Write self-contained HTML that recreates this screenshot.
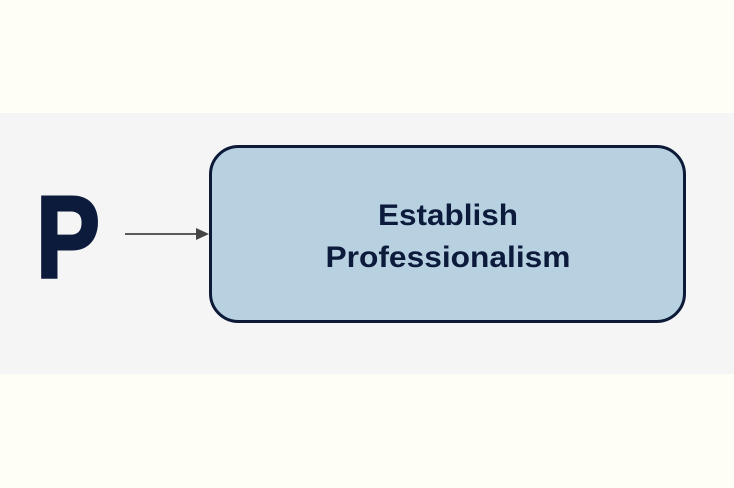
<!DOCTYPE html>
<html><head><meta charset="utf-8"><style>
html,body{margin:0;padding:0;width:734px;height:488px;overflow:hidden;background:#fefef6;}
</style></head><body>
<svg width="734" height="488" xmlns="http://www.w3.org/2000/svg" style="display:block">
<rect x="0" y="0" width="734" height="488" fill="#fefef6"/>
<rect x="0" y="113" width="734" height="261" fill="#f5f5f5"/>
<rect x="210.5" y="146.5" width="474" height="175" rx="28" fill="#b8d1e1" stroke="#0c1a38" stroke-width="3"/>
<text x="36" y="277" font-family="Liberation Sans, sans-serif" font-weight="bold" font-size="116" fill="#0c1a3c" stroke="#0c1a3c" stroke-width="3" textLength="64" lengthAdjust="spacingAndGlyphs">P</text>
<line x1="125" y1="234" x2="196" y2="234" stroke="#444" stroke-width="1.8"/>
<polygon points="196,228 209,234 196,240" fill="#444"/>
<text x="448" y="225" text-anchor="middle" font-family="Liberation Sans, sans-serif" font-weight="bold" font-size="30" fill="#0c1a3c" textLength="140" lengthAdjust="spacingAndGlyphs">Establish</text>
<text x="448" y="267" text-anchor="middle" font-family="Liberation Sans, sans-serif" font-weight="bold" font-size="30" fill="#0c1a3c" textLength="245" lengthAdjust="spacingAndGlyphs">Professionalism</text>
</svg>
</body></html>
